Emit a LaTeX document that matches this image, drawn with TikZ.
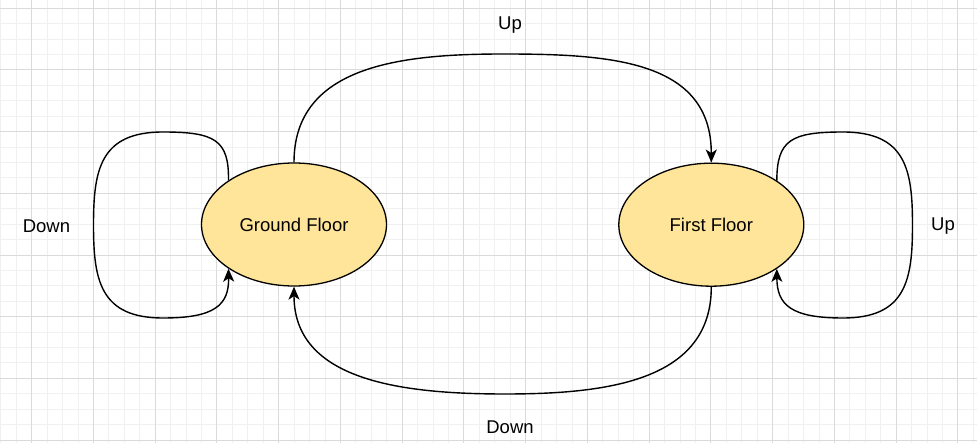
\documentclass[tikz,border=0pt]{standalone}
\usepackage{fontspec}
\setmainfont{Liberation Sans}
\usetikzlibrary{arrows.meta,shapes.geometric}
\definecolor{gridminor}{HTML}{F0F0F0}
\definecolor{gridmajor}{HTML}{DADADA}
\definecolor{statefill}{HTML}{FFE599}
\tikzset{
  state/.style={ellipse,draw=black,line width=1.3pt,fill=statefill,minimum width=185pt,minimum height=123pt,inner sep=0pt,font=\fontsize{18.5}{22}\selectfont},
  lbl/.style={font=\fontsize{18.5}{22}\selectfont,inner sep=0pt},
  edge/.style={draw=black,line width=1.4pt,-{Stealth[length=13pt,width=11pt,inset=3.5pt]}},
  gminor/.style={draw=gridminor,line width=1pt},
  gmajor/.style={draw=gridmajor,line width=1pt}
}
\begin{document}
\begin{tikzpicture}[x=1pt,y=-1pt]
\useasboundingbox (0,0) rectangle (977,443);
\fill[white] (0,0) rectangle (977,443);
% grid
\foreach \i in {0,...,64} { \draw[gminor] ({0.82+\i*15.4375},0) -- ({0.82+\i*15.4375},443); }
\foreach \j in {0,...,29} { \draw[gminor] (0,{8.3+\j*15.42}) -- (977,{8.3+\j*15.42}); }
\foreach \i in {0,...,15} { \draw[gmajor] ({31.7+\i*61.75},0) -- ({31.7+\i*61.75},443); }
\foreach \j in {0,...,7} { \draw[gmajor] (0,{8.3+\j*61.68}) -- (977,{8.3+\j*61.68}); }
% states
\node[state] (gf) at (294,224.5) {Ground Floor};
\node[state] (ff) at (711.3,224.7) {First Floor};
% labels
\node[lbl] (lup) at (510,25) {Up};
\node[lbl] (ldown) at (510,427) {Down};
\node[lbl] (lleft) at (46.5,226) {Down};
\node[lbl] (lright) at (943,226) {Up};
% Up arc
\draw[edge] (gf.north) .. controls (294,66) and (400,54) .. (503,54)
  .. controls (610,54) and (711.3,60) .. (ff.north);
% Down arc
\draw[edge] (ff.south) .. controls (711.3,380) and (610,394) .. (505,394)
  .. controls (400,394) and (294,380) .. (gf.south);
% Ground floor self loop
\draw[edge] (gf.146) .. controls (229,140) and (215,132) .. (163,132)
  .. controls (100,132) and (93.5,170) .. (93.5,225)
  .. controls (93.5,280) and (100,318) .. (163,318)
  .. controls (215,318) and (229,305) .. (gf.214);
% First floor self loop
\draw[edge] (ff.34) .. controls (777,140) and (791,132) .. (843,132)
  .. controls (906,132) and (912.5,170) .. (912.5,225)
  .. controls (912.5,280) and (906,318) .. (843,318)
  .. controls (791,318) and (777,305) .. (ff.-34);
\end{tikzpicture}
\end{document}
